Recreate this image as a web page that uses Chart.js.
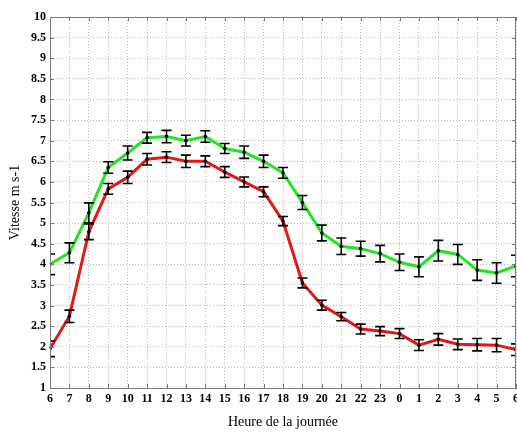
<!DOCTYPE html>
<html>
<head>
<meta charset="utf-8">
<script src="https://cdn.jsdelivr.net/npm/chart.js@4"></script>
<style>
  html, body { margin: 0; padding: 0; background: #fff; overflow: hidden; }
  #wrap { width: 530px; height: 436px; }
</style>
</head>
<body>
<div id="wrap"><canvas id="chart"></canvas></div>
<script>
// hours of the day, starting at 6h
const hours = ['6','7','8','9','10','11','12','13','14','15','16','17','18','19','20','21','22','23','0','1','2','3','4','5','6'];

const greenValues = [4.0, 4.28, 5.25, 6.35, 6.7, 7.07, 7.1, 7.0, 7.1, 6.81, 6.72, 6.5, 6.22, 5.5, 4.76, 4.44, 4.38, 4.26, 4.05, 3.94, 4.33, 4.24, 3.86, 3.79, 3.96];
const greenErrors = [0.25, 0.24, 0.24, 0.14, 0.17, 0.13, 0.15, 0.13, 0.14, 0.12, 0.15, 0.15, 0.13, 0.17, 0.19, 0.2, 0.18, 0.2, 0.2, 0.24, 0.25, 0.24, 0.25, 0.25, 0.26];

const redValues = [1.95, 2.74, 4.79, 5.83, 6.11, 6.55, 6.6, 6.5, 6.5, 6.24, 6.0, 5.76, 5.05, 3.55, 3.01, 2.73, 2.43, 2.38, 2.32, 2.04, 2.18, 2.06, 2.05, 2.04, 1.93];
const redErrors = [0.19, 0.15, 0.19, 0.13, 0.15, 0.14, 0.13, 0.15, 0.13, 0.13, 0.12, 0.12, 0.11, 0.12, 0.12, 0.1, 0.12, 0.11, 0.12, 0.13, 0.14, 0.13, 0.15, 0.16, 0.14];

const yMin = 1, yMax = 10, yStep = 0.5;

const serif = "'Liberation Serif', 'DejaVu Serif', serif";

// error bars + box drawn from the chart scales
const errorBars = {
    id: 'errorBars',
    afterDatasetsDraw(chart) {
        const ctx = chart.ctx;
        const xs = chart.scales.x, ys = chart.scales.y;
        const area = chart.chartArea;
        ctx.save();
        ctx.beginPath();
        ctx.rect(area.left, area.top, area.right - area.left, area.bottom - area.top);
        ctx.clip();
        ctx.strokeStyle = '#000';
        ctx.lineWidth = 1.6;
        chart.data.datasets.forEach(ds => {
            ds.errors.forEach((e, i) => {
                const x = xs.getPixelForValue(i);
                const yTop = ys.getPixelForValue(ds.data[i] + e);
                const yBot = ys.getPixelForValue(ds.data[i] - e);
                ctx.beginPath();
                ctx.moveTo(x, yTop); ctx.lineTo(x, yBot);
                ctx.moveTo(x - 5, yTop); ctx.lineTo(x + 5, yTop);
                ctx.moveTo(x - 5, yBot); ctx.lineTo(x + 5, yBot);
                ctx.stroke();
                ctx.beginPath();
                ctx.arc(x, ys.getPixelForValue(ds.data[i]), 1.8, 0, Math.PI * 2);
                ctx.fillStyle = '#000';
                ctx.fill();
            });
        });
        ctx.restore();

        // box and inward ticks
        ctx.save();
        ctx.strokeStyle = '#7a7a7a';
        ctx.lineWidth = 1;
        ctx.strokeRect(area.left + 0.5, area.top + 0.5, area.right - area.left - 1, area.bottom - area.top);
        ctx.beginPath();
        xs.ticks.forEach((t, i) => {
            const x = Math.round(xs.getPixelForTick(i)) + 0.5;
            ctx.moveTo(x, area.bottom); ctx.lineTo(x, area.bottom - 4);
            ctx.moveTo(x, area.top); ctx.lineTo(x, area.top + 4);
        });
        ys.ticks.forEach((t, i) => {
            const y = Math.round(ys.getPixelForTick(i)) + 0.5;
            ctx.moveTo(area.left, y); ctx.lineTo(area.left + 4, y);
            ctx.moveTo(area.right, y); ctx.lineTo(area.right - 4, y);
        });
        ctx.stroke();
        ctx.restore();
    }
};

new Chart(document.getElementById('chart'), {
    type: 'line',
    data: {
        labels: hours,
        datasets: [
            {
                label: 'vert',
                data: greenValues,
                errors: greenErrors,
                borderColor: '#22e422',
                borderWidth: 3,
                pointRadius: 0,
                tension: 0
            },
            {
                label: 'rouge',
                data: redValues,
                errors: redErrors,
                borderColor: '#e01818',
                borderWidth: 3,
                pointRadius: 0,
                tension: 0
            }
        ]
    },
    options: {
        responsive: true,
        maintainAspectRatio: false,
        animation: false,
        events: [],
        layout: { padding: { top: 17, right: 14, bottom: 0, left: 0 } },
        plugins: { legend: { display: false }, tooltip: { enabled: false } },
        scales: {
            x: {
                grid: { color: '#b8b8b8', drawTicks: false, lineWidth: 1 },
                border: { display: true, color: '#7a7a7a', dash: [1, 2] },
                ticks: { color: '#000', padding: 4, maxRotation: 0, autoSkip: false,
                         font: { family: serif, size: 12, weight: 'bold' } },
                title: { display: true, text: 'Heure de la journée', color: '#000',
                         font: { family: serif, size: 14 }, padding: { top: 8, bottom: 5 } },
                afterFit(scale) { scale.height = 48; }
            },
            y: {
                min: yMin, max: yMax,
                grid: { color: '#b8b8b8', drawTicks: false, lineWidth: 1 },
                border: { display: true, color: '#7a7a7a', dash: [1, 2] },
                ticks: { stepSize: yStep, color: '#000', padding: 4,
                         callback: v => String(v),
                         font: { family: serif, size: 12, weight: 'bold' } },
                title: { display: true, text: 'Vitesse m s-1', color: '#000',
                         font: { family: serif, size: 14 }, padding: { top: 7, bottom: 0 } },
                afterFit(scale) { scale.width = 50; }
            }
        }
    },
    plugins: [errorBars]
});
</script>
</body>
</html>
